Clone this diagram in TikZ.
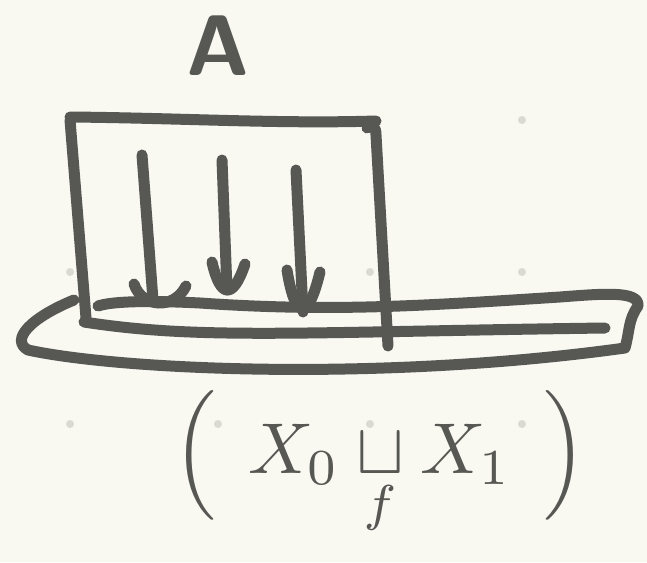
\documentclass[tikz,border=0pt]{standalone}
\usepackage{amsmath}
\definecolor{paper}{HTML}{F9F9F2}
\definecolor{ink}{HTML}{575754}
\definecolor{dotgrey}{HTML}{D9D9D4}
\tikzset{
  pen/.style={draw=ink, line width=11pt, line cap=round, line join=round},
  label/.style={text=ink, inner sep=0pt}
}
\begin{document}
\begin{tikzpicture}[x=1pt, y=-1pt]
    % Paper
    \fill[paper] (0,0) rectangle (647,562);
    \useasboundingbox (0,0) rectangle (647,562);

    % Grid dots
    \foreach \x in {70,218,370,522}
        \foreach \y in {120,272,424}
            \fill[dotgrey] (\x,\y) circle (4);

    % Box
    \draw[pen] (70,117) .. controls (180,118) and (280,124) .. (376,121);
    \draw[pen] (70,120) -- (86,318);
    \draw[pen] (367,128) .. controls (372,124) and (376,126) .. (376,135) -- (388,346);

    % Downward arrows
    \foreach \xa/\ya/\xb/\yb/\hl/\hr/\hy in {142/155/153/300/134/186/284, 222/160/227/290/212/245/262, 296/170/303/312/287/320/270}{
        \draw[pen] (\xa,\ya) -- (\xb,\yb);
        \draw[pen] (\hl,\hy) .. controls (\hl+8,\yb+8) and (\hr-12,\yb+10) .. (\hr,\hy+2);
    }

    % Loop (the space)
    \draw[pen] (74,300) .. controls (30,318) and (10,340) .. (28,350)
        .. controls (120,370) and (380,382) .. (625,348)
        .. controls (630,330) and (628,320) .. (638,306)
        .. controls (640,290) and (600,294) .. (560,297)
        .. controls (420,306) and (330,312) .. (200,303)
        .. controls (140,300) and (110,302) .. (98,306);
    \draw[pen] (84,322) .. controls (200,340) and (300,332) .. (605,328);

    % Labels
    \node[label, font=\sffamily\bfseries\fontsize{86}{90}\selectfont] (topA) at (218,46) {A};
    \node[label, scale=7.2] (glue) at (380,464)
        {$\Bigl(\;\, X_0 \mathbin{\mathop{\sqcup}\limits_{f}} X_1 \;\,\Bigr)$};
\end{tikzpicture}
\end{document}
